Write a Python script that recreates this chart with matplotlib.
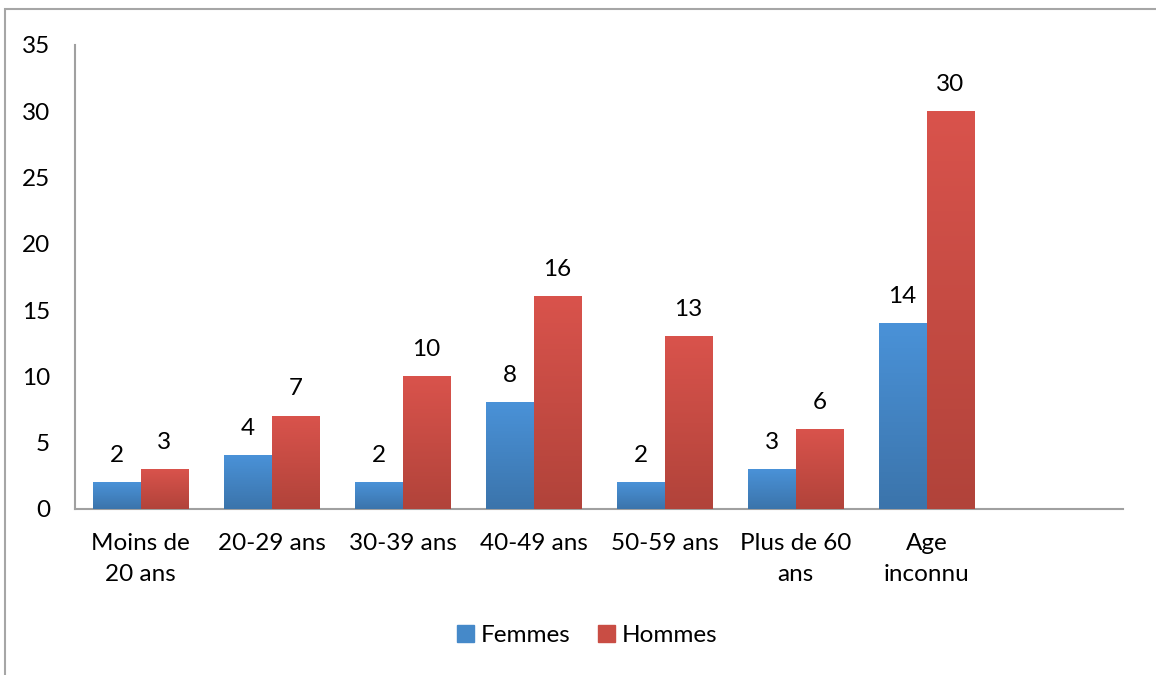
import numpy as np
import matplotlib.pyplot as plt
from matplotlib.patches import Rectangle, Patch
from matplotlib.colors import LinearSegmentedColormap

categories = ["Moins de\n20 ans", "20-29 ans", "30-39 ans", "40-49 ans",
              "50-59 ans", "Plus de 60\nans", "Age\ninconnu", ""]
femmes = [2, 4, 2, 8, 2, 3, 14]
hommes = [3, 7, 10, 16, 13, 6, 30]

plt.rcParams['font.family'] = ['Lato', 'DejaVu Sans']
fs = 17.5

fig = plt.figure(figsize=(11.56, 6.75), dpi=100)
ax = fig.add_axes([0.0649, 0.246, 0.9066, 0.6874])

# cadre du graphique (haut et gauche visibles)
fig.patches.append(Rectangle((5 / 1156, -0.1), 1.2, 1.1 - 9 / 675,
                             transform=fig.transFigure, fill=False,
                             edgecolor='#a6a6a6', linewidth=1.5))

blue_cm = LinearSegmentedColormap.from_list('b', ['#3b74ab', '#4a92d8'])
red_cm = LinearSegmentedColormap.from_list('r', ['#b1433a', '#d9534c'])

x = np.arange(len(categories))
w = 0.365


def gradient_bars(xs, vals, cmap, label):
    bars = ax.bar(xs, vals, w, color='none', edgecolor='none', label=label, zorder=2)
    grad = np.linspace(0, 1, 256).reshape(-1, 1)
    for b in bars:
        x0, y0 = b.get_x(), b.get_y()
        ax.imshow(grad, cmap=cmap, aspect='auto', origin='lower',
                  extent=[x0, x0 + b.get_width(), y0, y0 + b.get_height()],
                  zorder=3)
    for xi, v in zip(xs, vals):
        ax.annotate(str(v), (xi, v), xytext=(0, 12), textcoords='offset points',
                    ha='center', va='bottom', fontsize=fs)
    return bars


gradient_bars(x[:7] - w / 2, femmes, blue_cm, 'Femmes')
gradient_bars(x[:7] + w / 2, hommes, red_cm, 'Hommes')

ax.set_xlim(-0.5, len(categories) - 0.5)
ax.set_ylim(0, 35)
ax.set_yticks(range(0, 36, 5))
ax.set_xticks(x)
ax.set_xticklabels(categories, fontsize=fs, linespacing=1.6)
ax.tick_params(axis='y', labelsize=fs, length=0, pad=18)
ax.tick_params(axis='x', length=0, pad=17)
for s in ['top', 'right']:
    ax.spines[s].set_visible(False)
for s in ['left', 'bottom']:
    ax.spines[s].set_color('#a0a0a0')
    ax.spines[s].set_linewidth(1.5)
ax.set_aspect('auto')

# légende
handles = [Patch(color='#4589c9', label='Femmes'), Patch(color='#c94d44', label='Hommes')]
fig.legend(handles=handles, loc='center', bbox_to_anchor=(0.508, 0.059), ncol=2,
           frameon=False, fontsize=fs, handlelength=0.7, handleheight=0.7,
           handletextpad=0.3, columnspacing=1.1)

fig.savefig('out.png', dpi=100)
